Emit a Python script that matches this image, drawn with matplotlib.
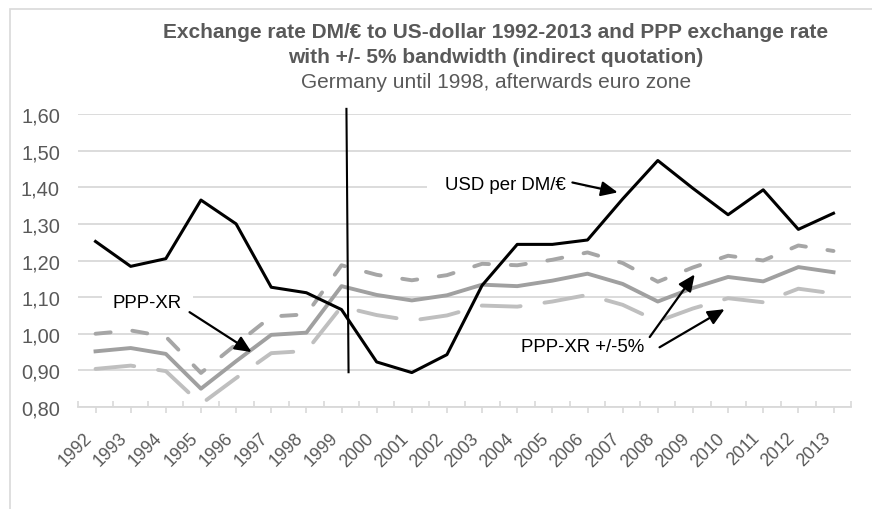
import matplotlib.pyplot as plt
from matplotlib.patches import Rectangle
import numpy as np

plt.rcParams['font.family'] = ['Liberation Sans', 'DejaVu Sans']

# Dati
years = [str(y) for y in range(1992, 2014)]
usd_per_dm = [1.252, 1.184, 1.205, 1.365, 1.300, 1.127, 1.112, 1.066, 0.923, 0.894, 0.943,
              1.132, 1.244, 1.244, 1.256, 1.368, 1.473, 1.397, 1.325, 1.393, 1.285, 1.329]
ppp_xr = [0.952, 0.961, 0.945, 0.850, 0.925, 0.997, 1.003, 1.130, 1.106, 1.091, 1.105,
          1.134, 1.130, 1.145, 1.164, 1.136, 1.088, 1.125, 1.155, 1.143, 1.182, 1.168]
ppp_upper = [1.000, 1.009, 0.992, 0.893, 0.971, 1.047, 1.053, 1.187, 1.161, 1.146, 1.160,
             1.191, 1.187, 1.202, 1.222, 1.193, 1.142, 1.181, 1.213, 1.200, 1.241, 1.226]
ppp_lower = [0.904, 0.913, 0.898, 0.808, 0.879, 0.947, 0.953, 1.074, 1.051, 1.036, 1.050,
             1.077, 1.074, 1.088, 1.106, 1.079, 1.034, 1.069, 1.097, 1.086, 1.123, 1.110]
y_ticks = [0.80, 0.90, 1.00, 1.10, 1.20, 1.30, 1.40, 1.50, 1.60]

grey_txt = '#595959'
grid_col = '#d9d9d9'

fig = plt.figure(figsize=(8.72, 5.10), dpi=100)
ax = fig.add_axes([0.0894, 0.2, 0.8866, 0.5745])
x = np.arange(len(years))

# Cornice esterna (tagliata a destra e in basso)
fig.add_artist(Rectangle((10 / 872, -0.1), 1.2, 1.08, transform=fig.transFigure,
                         fill=False, ec=grid_col, lw=1.2))

lw = 2.8
ax.plot(x, ppp_lower, color='#bfbfbf', lw=lw, linestyle=(0, (10, 6.2)),
        dash_capstyle='round', zorder=3)
ax.plot(x, ppp_upper, color='#a6a6a6', lw=lw, linestyle=(0, (3.9, 5.6)),
        dash_capstyle='round', zorder=3)
ax.plot(x, ppp_xr, color='#a0a0a0', lw=lw, solid_joinstyle='round', zorder=4)
ax.plot(x, usd_per_dm, color='black', lw=2.2, solid_joinstyle='round', zorder=5)

# Linea verticale: passaggio all'euro
ax.plot([7.14, 7.2], [1.614, 0.895], color='black', lw=1.5, zorder=6, clip_on=False)

ax.set_xlim(-0.5, len(years) - 0.5)
ax.set_ylim(0.8, 1.6)
ax.set_yticks(y_ticks)
ax.set_yticklabels([f'{v:.2f}'.replace('.', ',') for v in y_ticks])
ax.set_xticks(x)
ax.set_xticks(np.arange(-0.5, len(years)), minor=True)
ax.set_xticklabels(years, rotation=45, ha='right', va='top')

ax.grid(axis='y', color=grid_col, lw=1.3, zorder=0)
ax.set_axisbelow(True)
for s in ['top', 'right', 'left']:
    ax.spines[s].set_visible(False)
ax.spines['bottom'].set_color(grid_col)
ax.spines['bottom'].set_linewidth(1.3)
ax.tick_params(axis='y', length=0, pad=13, labelsize=14.4, labelcolor=grey_txt)
ax.tick_params(axis='x', which='major', direction='out', length=4, color=grid_col,
               width=1.2, labelsize=12.8, labelcolor=grey_txt, pad=12)
ax.tick_params(axis='x', which='minor', direction='in', length=4, color=grid_col, width=1.2)

# Etichette con frecce
fs = 13.4
box = dict(boxstyle='square,pad=0.6', fc='white', ec='none')
ax.text(1.48, 1.086, 'PPP-XR', fontsize=fs, ha='center', va='center', bbox=box, zorder=2)
ax.text(11.67, 1.408, 'USD per DM/€', fontsize=fs, ha='center', va='center',
        bbox=dict(boxstyle='square,pad=1.0', fc='white', ec='none'), zorder=2)
ax.text(13.86, 0.966, 'PPP-XR +/-5%', fontsize=fs, ha='center', va='center', zorder=2)

arrow = dict(arrowstyle='-|>,head_length=1.0,head_width=0.45', color='black', lw=1.6,
             shrinkA=0, shrinkB=0)
ax.annotate('', xy=(4.44, 0.95), xytext=(2.675, 1.059), arrowprops=arrow, zorder=7)
ax.annotate('', xy=(14.86, 1.386), xytext=(13.57, 1.413), arrowprops=arrow, zorder=7)
ax.annotate('', xy=(17.05, 1.162), xytext=(15.77, 0.991), arrowprops=arrow, zorder=7)
ax.annotate('', xy=(17.9, 1.067), xytext=(16.05, 0.963), arrowprops=arrow, zorder=7)

# Titolo
cx = 496 / 872
fig.text(cx, 1 - 33 / 510, 'Exchange rate DM/€ to US-dollar 1992-2013 and PPP exchange rate',
         ha='center', va='center', fontsize=15, fontweight='bold', color=grey_txt)
fig.text(cx, 1 - 57.5 / 510, 'with +/- 5% bandwidth (indirect quotation)',
         ha='center', va='center', fontsize=15, fontweight='bold', color=grey_txt)
fig.text(cx, 1 - 82 / 510, 'Germany until 1998, afterwards euro zone',
         ha='center', va='center', fontsize=15, color=grey_txt)

plt.savefig('out.png', dpi=100)
plt.close(fig)
